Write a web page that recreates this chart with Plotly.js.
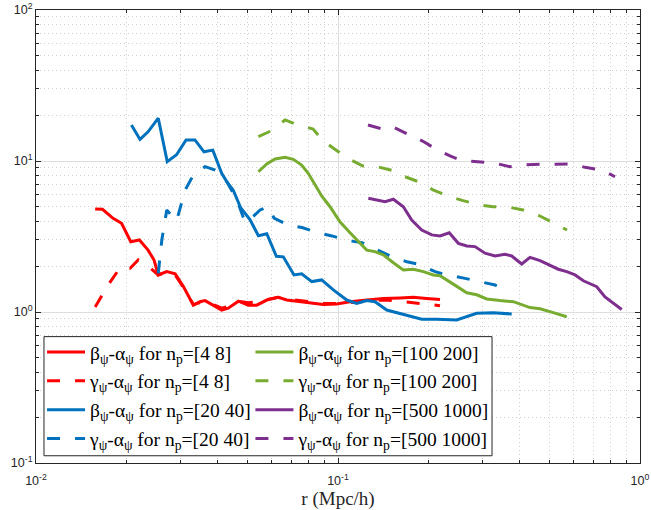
<!DOCTYPE html>
<html><head><meta charset="utf-8">
<script src="https://cdn.plot.ly/plotly-3.0.1.min.js"></script>
<style>html,body{margin:0;padding:0;background:#fff}#chart{width:651px;height:510px}</style>
</head><body><div id="chart"></div>
<script>
// ---- data (r in Mpc/h, ratio values) ----
const rRedBeta = [0.0157,0.0166,0.0180,0.0192,0.0206,0.0220,0.0235,0.0246,0.0254,0.0271,0.0289,0.0308,0.0332,0.0349,0.0363,0.0387,0.0412,0.0433,0.0468,0.0505,0.0538,0.0581,0.0634,0.0677,0.0749,0.0819,0.0894,0.0990,0.1096,0.1245,0.1413,0.1605,0.1776,0.1967,0.2177];
const vRedBeta = [4.81,4.79,4.17,3.87,2.92,3.00,2.57,2.21,1.76,1.85,1.79,1.47,1.11,1.17,1.19,1.10,1.03,1.06,1.18,1.11,1.11,1.20,1.25,1.20,1.17,1.14,1.12,1.13,1.17,1.20,1.23,1.24,1.25,1.23,1.21];

const rRedGamma = [0.0157,0.0173,0.0190,0.0205,0.0218,0.0235,0.0254,0.0271,0.0289,0.0308,0.0332,0.0349,0.0363,0.0387,0.0412,0.0433,0.0468,0.0505,0.0538,0.0581,0.0634,0.0677,0.0749,0.0819,0.0894,0.0990,0.1096,0.1245,0.1413,0.1605,0.1776,0.1967,0.2177];
const vRedGamma = [1.08,1.50,1.97,1.95,2.21,2.02,1.76,1.84,1.76,1.45,1.12,1.16,1.18,1.12,1.06,1.09,1.18,1.15,1.17,1.21,1.25,1.22,1.19,1.16,1.14,1.14,1.16,1.18,1.20,1.18,1.15,1.12,1.10];

const rBlueBeta = [0.0207,0.0221,0.0235,0.0254,0.0272,0.0292,0.0314,0.0336,0.0360,0.0385,0.0412,0.0428,0.0450,0.0476,0.0511,0.0545,0.0581,0.0625,0.0659,0.0715,0.0758,0.0819,0.0883,0.0965,0.1069,0.1153,0.1245,0.1326,0.1450,0.1565,0.1689,0.1893,0.2122,0.2472,0.2879,0.3268,0.3760];
const vBlueBeta = [17.3,13.9,15.6,19.2,9.9,11.0,13.8,13.8,11.5,11.8,8.3,7.3,6.4,4.9,4.1,3.2,3.3,2.34,2.32,1.76,1.79,1.59,1.63,1.40,1.20,1.14,1.19,1.17,1.03,0.99,0.955,0.895,0.895,0.885,0.98,0.99,0.97];

const rBlueGamma = [0.0254,0.0261,0.0271,0.0292,0.0312,0.0332,0.0363,0.0392,0.0429,0.0463,0.0492,0.0523,0.0552,0.0587,0.0614,0.0683,0.0760,0.0859,0.0955,0.1079,0.1201,0.1346,0.1510,0.1692,0.1869,0.2095,0.2296,0.2634,0.2953,0.3311,0.3684];
const vBlueGamma = [1.80,3.00,4.74,4.01,6.43,8.08,9.17,8.72,7.26,5.52,3.94,4.28,4.74,4.98,4.19,3.77,3.63,3.35,3.19,2.97,2.88,2.57,2.32,2.15,2.06,1.85,1.76,1.67,1.59,1.51,1.34];

const rGreenBeta = [0.0545,0.0581,0.0619,0.0668,0.0711,0.0758,0.0797,0.0839,0.0883,0.0941,0.1015,0.1096,0.1167,0.1245,0.1326,0.1413,0.1525,0.1646,0.1776,0.1916,0.2068,0.2177,0.2409,0.2669,0.2879,0.3108,0.3439,0.3807,0.4323,0.4667,0.5164,0.5719];
const vGreenBeta = [8.49,9.55,10.31,10.58,10.26,9.41,8.29,6.93,5.87,4.98,3.96,3.35,2.92,2.57,2.51,2.39,2.12,1.90,1.92,1.85,1.76,1.74,1.53,1.34,1.30,1.22,1.19,1.17,1.07,1.05,0.99,0.93];

const rGreenGamma = [0.0545,0.0603,0.0668,0.0739,0.0827,0.0892,0.0992,0.1079,0.1210,0.1346,0.1521,0.1667,0.1897,0.2063,0.2349,0.2594,0.2953,0.3261,0.3712,0.4099,0.4667,0.5152,0.5732];
const vGreenGamma = [14.5,15.9,18.7,17.3,16.3,13.6,11.7,10.4,9.27,9.17,8.63,7.87,7.15,6.43,5.80,5.46,5.11,4.98,4.93,4.74,4.32,3.90,3.49];

const rPurpleBeta = [0.1260,0.1343,0.1431,0.1525,0.1646,0.1754,0.1893,0.2044,0.2177,0.2336,0.2503,0.2669,0.2842,0.3068,0.3311,0.3573,0.3760,0.4058,0.4323,0.4667,0.5035,0.5364,0.5719,0.6094,0.6493,0.6922,0.7190,0.7658,0.8159,0.8700];
const vPurpleBeta = [5.66,5.52,5.38,5.58,4.98,4.07,3.49,3.24,3.19,3.35,2.85,2.74,2.71,2.45,2.35,2.41,2.35,2.08,2.30,2.19,2.05,1.92,1.85,1.76,1.61,1.53,1.47,1.26,1.14,1.04];

const rPurpleGamma = [0.1257,0.1399,0.1510,0.1705,0.1912,0.2095,0.2349,0.2574,0.2953,0.3261,0.3712,0.4099,0.4667,0.5231,0.5955,0.6576,0.7485,0.8267];
const vPurpleGamma = [17.3,16.3,16.9,15.1,13.5,12.1,10.8,10.05,9.89,9.74,9.17,9.41,9.51,9.55,9.55,9.08,8.72,7.87];

const seriesNames = [
  'β<sub>ψ</sub>-α<sub>ψ</sub> for n<sub>p</sub>=[4 8]',
  'γ<sub>ψ</sub>-α<sub>ψ</sub> for n<sub>p</sub>=[4 8]',
  'β<sub>ψ</sub>-α<sub>ψ</sub> for n<sub>p</sub>=[20 40]',
  'γ<sub>ψ</sub>-α<sub>ψ</sub> for n<sub>p</sub>=[20 40]',
  'β<sub>ψ</sub>-α<sub>ψ</sub> for n<sub>p</sub>=[100 200]',
  'γ<sub>ψ</sub>-α<sub>ψ</sub> for n<sub>p</sub>=[100 200]',
  'β<sub>ψ</sub>-α<sub>ψ</sub> for n<sub>p</sub>=[500 1000]',
  'γ<sub>ψ</sub>-α<sub>ψ</sub> for n<sub>p</sub>=[500 1000]'
];

const xTickVals = [0.01, 0.1, 1];
const xTickText = ['10<sup>-2</sup>', '10<sup>-1</sup>', '10<sup>0</sup>'];
const yTickVals = [0.1, 1, 10, 100];
const yTickText = ['10<sup>-1</sup>', '10<sup>0</sup>', '10<sup>1</sup>', '10<sup>2</sup>'];
const xAxisTitle = 'r (Mpc/h)';

// ---- styling ----
const RED = '#FF0000', BLUE = '#0072BD', GREEN = '#77AC30', PURPLE = '#7E2F8E';
const DASH = '13px,15px';
const LW = 3;

function mk(x, y, name, color, dashed, legendId, grp) {
  return {
    x: x, y: y, name: name, type: 'scatter', mode: 'lines',
    line: {color: color, width: LW, dash: dashed ? DASH : 'solid'},
    legend: legendId, legendgroup: grp, hoverinfo: 'skip'
  };
}

const traces = [
  mk(rRedBeta, vRedBeta, seriesNames[0], RED, false, 'legend', 'g1'),
  mk(rRedGamma, vRedGamma, seriesNames[1], RED, true, 'legend', 'g2'),
  mk(rBlueBeta, vBlueBeta, seriesNames[2], BLUE, false, 'legend', 'g3'),
  mk(rBlueGamma, vBlueGamma, seriesNames[3], BLUE, true, 'legend', 'g4'),
  mk(rGreenBeta, vGreenBeta, seriesNames[4], GREEN, false, 'legend2', 'g5'),
  mk(rGreenGamma, vGreenGamma, seriesNames[5], GREEN, true, 'legend2', 'g6'),
  mk(rPurpleBeta, vPurpleBeta, seriesNames[6], PURPLE, false, 'legend2', 'g7'),
  mk(rPurpleGamma, vPurpleGamma, seriesNames[7], PURPLE, true, 'legend2', 'g8')
];

function minorVals(lo, hi) {
  const out = [];
  for (let e = lo; e < hi; e++) for (let d = 2; d <= 9; d++) out.push(d * Math.pow(10, e));
  return out;
}

const AX = '#262626';
const tickFont = {family: 'Liberation Sans, Arial, sans-serif', size: 12.5, color: AX};
const serif = 'Liberation Serif, Times New Roman, serif';
const legFont = {family: serif, size: 19.5, color: '#000'};

const common = {
  type: 'log', showline: true, linecolor: AX, linewidth: 1, mirror: 'ticks',
  ticks: 'inside', ticklen: 5, tickcolor: AX, tickwidth: 1,
  showgrid: true, gridcolor: '#dedede', gridwidth: 1, zeroline: false,
  tickmode: 'array', tickfont: tickFont, automargin: false
};

const layout = {
  width: 651, height: 510,
  margin: {l: 36, r: 11, t: 10, b: 47},
  paper_bgcolor: '#fff', plot_bgcolor: '#fff',
  showlegend: true,
  xaxis: Object.assign({}, common, {
    range: [-2, 0], tickvals: xTickVals, ticktext: xTickText, ticklabelstandoff: 6,
    title: {text: xAxisTitle, font: {family: serif, size: 19, color: AX}, standoff: 3},
    minor: {tickmode: 'array', tickvals: minorVals(-2, 0), ticks: 'inside', ticklen: 3, tickcolor: AX,
            showgrid: true, gridcolor: '#cfcfcf', griddash: '1px,3px', gridwidth: 1}
  }),
  yaxis: Object.assign({}, common, {
    range: [-1, 2], tickvals: yTickVals, ticktext: yTickText,
    minor: {tickmode: 'array', tickvals: minorVals(-1, 2), ticks: 'inside', ticklen: 3, tickcolor: AX,
            showgrid: true, gridcolor: '#cfcfcf', griddash: '1px,3px', gridwidth: 1}
  }),
  legend: {
    x: 0.010, y: 0.2875, xanchor: 'left', yanchor: 'top', orientation: 'v',
    bgcolor: 'rgba(0,0,0,0)', borderwidth: 0, font: legFont, itemwidth: 38,
    tracegroupgap: 0.5, itemclick: false, itemdoubleclick: false
  },
  legend2: {
    x: 0.355, y: 0.2875, xanchor: 'left', yanchor: 'top', orientation: 'v',
    bgcolor: 'rgba(0,0,0,0)', borderwidth: 0, font: legFont, itemwidth: 38,
    tracegroupgap: 0.5, itemclick: false, itemdoubleclick: false
  },
  shapes: [{
    type: 'rect', xref: 'paper', yref: 'paper', x0: 0.0132, x1: 0.755, y0: 0.016, y1: 0.279,
    line: {color: AX, width: 1}, fillcolor: '#ffffff', layer: 'above'
  }]
};

Plotly.newPlot('chart', traces, layout, {displayModeBar: false, staticPlot: true});
</script>
</body></html>
